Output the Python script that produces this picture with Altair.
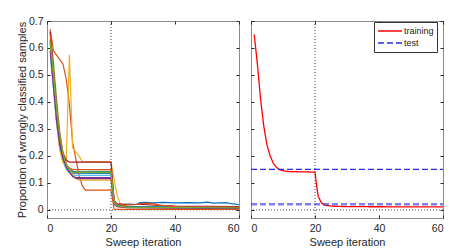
import altair as alt
import pandas as pd

FONT = "Liberation Sans"
ITER_TICKS = [0, 20, 40, 60]
ERR_TICKS = [0, 0.1, 0.2, 0.3, 0.4, 0.5, 0.6, 0.7]
X_DOMAIN = [0, 60]
Y_DOMAIN = [-0.03, 0.7]
SPLIT_ITER = [20]
ZERO_LEVEL = [0]

# ---- left panel: individual runs (iteration knots, error values) ----
run_names = ["r01", "r02", "r03", "r04", "r05", "r06", "r07", "r08", "r09", "r10", "r11", "r12"]
run_colors = ["#0072BD", "#D95319", "#EDB120", "#7E2F8E", "#77AC30", "#4DBEEE",
              "#A2142F", "#0072BD", "#D95319", "#EDB120", "#7E2F8E", "#77AC30"]
r01_x = [1, 2, 3, 4, 5, 6, 7, 8, 20, 21, 22, 24, 26, 28, 29, 31, 33, 36, 40, 44, 48, 50, 52, 56, 58, 60]
r01_y = [0.62, 0.49, 0.35, 0.25, 0.19, 0.16, 0.145, 0.136, 0.135, 0.035, 0.02, 0.02, 0.021, 0.02, 0.027,
         0.028, 0.026, 0.028, 0.026, 0.027, 0.026, 0.029, 0.025, 0.027, 0.022, 0.02]
r02_x = [1, 2, 5, 6, 7, 8, 10, 11, 12, 20, 21, 60]
r02_y = [0.67, 0.59, 0.54, 0.486, 0.39, 0.25, 0.13, 0.09, 0.073, 0.073, 0.002, 0.002]
r03_x = [1, 2, 3, 4, 5, 6, 7, 8, 9, 10, 11, 20, 21, 22, 23, 26, 60]
r03_y = [0.64, 0.5, 0.36, 0.26, 0.2, 0.18, 0.575, 0.23, 0.215, 0.2, 0.18, 0.178, 0.11, 0.05, 0.02, 0.012, 0.008]
r04_x = [1, 2, 3, 4, 5, 6, 7, 8, 9, 20, 21, 22, 25, 60]
r04_y = [0.6, 0.47, 0.34, 0.25, 0.2, 0.16, 0.14, 0.125, 0.12, 0.12, 0.03, 0.015, 0.01, 0.006]
r05_x = [1, 2, 3, 4, 5, 6, 7, 8, 20, 21, 22, 25, 60]
r05_y = [0.66, 0.55, 0.41, 0.29, 0.21, 0.17, 0.152, 0.144, 0.143, 0.028, 0.016, 0.012, 0.008]
r06_x = [1, 2, 3, 4, 5, 6, 7, 8, 9, 20, 21, 22, 25, 60]
r06_y = [0.58, 0.45, 0.32, 0.23, 0.18, 0.15, 0.137, 0.13, 0.128, 0.128, 0.025, 0.015, 0.01, 0.007]
r07_x = [1, 2, 3, 4, 5, 6, 7, 20, 21, 22, 25, 30, 35, 40, 60]
r07_y = [0.66, 0.52, 0.38, 0.27, 0.21, 0.185, 0.177, 0.177, 0.03, 0.022, 0.021, 0.02, 0.017, 0.014, 0.012]
r08_x = [1, 2, 3, 4, 5, 6, 7, 8, 9, 20, 21, 22, 25, 60]
r08_y = [0.63, 0.5, 0.37, 0.27, 0.2, 0.165, 0.15, 0.143, 0.14, 0.14, 0.03, 0.018, 0.012, 0.009]
r09_x = [1, 2, 3, 4, 5, 6, 7, 8, 20, 21, 22, 24, 28, 30, 33, 35, 40, 60]
r09_y = [0.65, 0.52, 0.38, 0.27, 0.2, 0.17, 0.155, 0.15, 0.149, 0.03, 0.02, 0.018, 0.02, 0.024, 0.024,
         0.018, 0.012, 0.01]
r10_x = [1, 2, 3, 4, 5, 6, 7, 8, 9, 10, 20, 21, 22, 25, 60]
r10_y = [0.61, 0.47, 0.33, 0.22, 0.175, 0.165, 0.15, 0.13, 0.115, 0.11, 0.11, 0.025, 0.012, 0.008, 0.005]
r11_x = [1, 2, 3, 4, 5, 6, 7, 8, 9, 10, 20, 21, 22, 25, 60]
r11_y = [0.59, 0.46, 0.33, 0.24, 0.19, 0.16, 0.14, 0.125, 0.118, 0.116, 0.116, 0.02, 0.012, 0.008, 0.005]
r12_x = [1, 2, 3, 4, 5, 6, 7, 8, 20, 21, 22, 25, 60]
r12_y = [0.62, 0.51, 0.38, 0.28, 0.21, 0.17, 0.148, 0.139, 0.138, 0.025, 0.015, 0.01, 0.007]
run_iters = [r01_x, r02_x, r03_x, r04_x, r05_x, r06_x, r07_x, r08_x, r09_x, r10_x, r11_x, r12_x]
run_errs = [r01_y, r02_y, r03_y, r04_y, r05_y, r06_y, r07_y, r08_y, r09_y, r10_y, r11_y, r12_y]

# ---- right panel: training curve and test levels ----
train_iters = [1, 2, 3, 4, 5, 6, 7, 8, 9, 10, 11, 12, 20, 20.5, 21, 22, 23, 25, 30, 60]
train_errs = [0.65, 0.54, 0.41, 0.31, 0.24, 0.2, 0.172, 0.157, 0.149, 0.145, 0.143, 0.142, 0.14,
              0.09, 0.05, 0.026, 0.018, 0.014, 0.012, 0.011]
test_iters = [0, 60]
test_errs_before = [0.15, 0.15]
test_errs_after = [0.021, 0.021]

left_rows = []
for name, color, xs, ys in zip(run_names, run_colors, run_iters, run_errs):
    for x, y in zip(xs, ys):
        left_rows.append({"run": name, "color": color, "iter": x, "err": y})
left_df = pd.DataFrame(left_rows)

right_rows = []
for x, y in zip(train_iters, train_errs):
    right_rows.append({"name": "training", "line": "train", "iter": x, "err": y, "op": 1.0, "sw": 1.3})
for x, y in zip(test_iters, test_errs_before):
    right_rows.append({"name": "test", "line": "test_a", "iter": x, "err": y, "op": 1.0, "sw": 1.3})
for x, y in zip(test_iters, test_errs_after):
    right_rows.append({"name": "test", "line": "test_b", "iter": x, "err": y, "op": 0.6, "sw": 2.6})
right_df = pd.DataFrame(right_rows)

split_df = pd.DataFrame({"iter": SPLIT_ITER})
zero_df = pd.DataFrame({"err": ZERO_LEVEL})

x_scale = alt.Scale(domain=X_DOMAIN, nice=False, zero=False)
y_scale = alt.Scale(domain=Y_DOMAIN, nice=False, zero=False)

TICK = dict(domain=False, grid=False, offset=-3, tickSize=3)


def bottom_axis():
    return alt.Axis(orient="bottom", values=ITER_TICKS, title="Sweep iteration", format="d",
                    labelPadding=5, titlePadding=3, **TICK)


def top_axis():
    return alt.Axis(orient="top", values=ITER_TICKS, title=None, labels=False, **TICK)


def left_axis(show):
    if show:
        return alt.Axis(orient="left", values=ERR_TICKS, title="Proportion of wrongly classified samples",
                        labelExpr="datum.value == 0 ? '0' : format(datum.value, '.1f')",
                        labelPadding=4, titlePadding=1, **TICK)
    return alt.Axis(orient="left", values=ERR_TICKS, title=None, labels=False, **TICK)


def right_axis():
    return alt.Axis(orient="right", values=ERR_TICKS, title=None, labels=False, **TICK)


def guides():
    vrule = alt.Chart(split_df).mark_rule(color="#444", strokeDash=[1, 2], strokeWidth=1).encode(
        x=alt.X("iter:Q", scale=x_scale, axis=top_axis())
    )
    hrule = alt.Chart(zero_df).mark_rule(color="#444", strokeDash=[1, 2], strokeWidth=1).encode(
        y=alt.Y("err:Q", scale=y_scale, axis=right_axis())
    )
    return vrule, hrule


left_lines = alt.Chart(left_df).mark_line(strokeWidth=1.2, clip=True).encode(
    x=alt.X("iter:Q", scale=x_scale, axis=bottom_axis()),
    y=alt.Y("err:Q", scale=y_scale, axis=left_axis(True)),
    color=alt.Color("color:N", scale=None),
    detail="run:N",
)
lv, lh = guides()
left = alt.layer(lv, lh, left_lines).resolve_axis(x="independent", y="independent").properties(
    width=192, height=197
)


def make_legend():
    return alt.Legend(title=None, orient="none", legendX=123, legendY=1, direction="vertical",
                      symbolType="stroke", symbolSize=580, symbolStrokeWidth=1.3, clipHeight=12,
                      labelFontSize=9, labelFont=FONT, labelColor="#222", labelOffset=1,
                      strokeColor="#333", fillColor="white", padding=3, rowPadding=0)


right_lines = alt.Chart(right_df).mark_line(clip=True).encode(
    x=alt.X("iter:Q", scale=x_scale, axis=bottom_axis()),
    y=alt.Y("err:Q", scale=y_scale, axis=left_axis(False)),
    color=alt.Color("name:N", scale=alt.Scale(domain=["training", "test"], range=["#ff0000", "#2a2ae8"]),
                    legend=make_legend()),
    strokeDash=alt.StrokeDash("name:N", scale=alt.Scale(domain=["training", "test"], range=[[1, 0], [6, 3]]),
                              legend=make_legend()),
    opacity=alt.Opacity("op:Q", scale=None),
    strokeWidth=alt.StrokeWidth("sw:Q", scale=None),
    detail="line:N",
)
rv, rh = guides()
right = alt.layer(rv, rh, right_lines).resolve_axis(x="independent", y="independent").properties(
    width=192, height=197
)

chart = alt.hconcat(left, right, spacing=10).resolve_scale(
    color="independent", strokeDash="independent"
).configure(
    padding={"left": 7, "top": 7, "right": 5, "bottom": 5}
).configure_view(
    stroke="#8c8c8c", strokeWidth=1
).configure_axis(
    labelFont=FONT, titleFont=FONT, labelFontSize=10.5, titleFontSize=11,
    titleFontWeight="normal", labelColor="#262626", titleColor="#262626", tickColor="#262626",
)

chart.save("out.html", embed_options={"renderer": "svg", "actions": False})
